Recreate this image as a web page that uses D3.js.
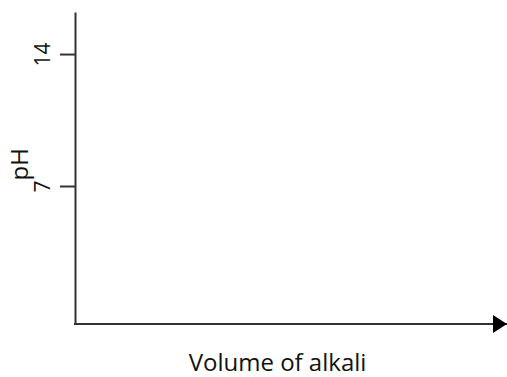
<!DOCTYPE html>
<html>
<head>
<meta charset="utf-8">
<script src="https://cdn.jsdelivr.net/npm/d3@7"></script>
<style>
  body { margin: 0; background: #fff; }
  text { font-family: "Open Sans", "Liberation Sans", sans-serif; fill: #111; }
</style>
</head>
<body>
<svg id="chart" width="507" height="377"></svg>
<script>
// Axis values
const yTicks = [7, 14],
    yDomain = [-0.32, 16.23],
    xDomain = [0, 1],
    yLabel = 'pH',
    xLabel = 'Volume of alkali';

const margin = { top: 12, right: 0, bottom: 53, left: 75 },
    visWidth = 507, visHeight = 377,
    width = visWidth - margin.left - margin.right,
    height = visHeight - margin.top - margin.bottom;

const svg = d3.select('#chart');
const g = svg.append('g').attr('transform', 'translate(' + margin.left + ',' + margin.top + ')');

const xScale = d3.scaleLinear().domain(xDomain).range([0, width]),
    yScale = d3.scaleLinear().domain(yDomain).range([height, 0]);

// Arrow marker
svg.append('defs').append('marker')
    .attr('id', 'arrow')
    .attr('viewBox', '0 0 14 18')
    .attr('refX', 14).attr('refY', 9)
    .attr('markerWidth', 14).attr('markerHeight', 18)
    .attr('markerUnits', 'userSpaceOnUse')
    .attr('orient', 'auto')
  .append('path')
    .attr('d', 'M0,0L14,9L0,18Z')
    .attr('fill', '#000');

// Y axis
const yAxis = g.append('g')
    .call(d3.axisLeft(yScale).tickValues(yTicks).tickSize(15).tickSizeOuter(0).tickPadding(0));
yAxis.select('.domain').attr('stroke', '#333').attr('stroke-width', 2);
yAxis.selectAll('.tick line').attr('stroke', '#333').attr('stroke-width', 2);
yAxis.selectAll('.tick text')
    .attr('x', 0).attr('dy', null).attr('dx', null)
    .attr('transform', 'translate(-25,0) rotate(-90)')
    .attr('text-anchor', 'middle')
    .style('font-size', '21px')
    .style('font-family', '"Open Sans", sans-serif')
    .attr('fill', '#111');

// X axis line with arrow
g.append('line')
    .attr('x1', xScale(0) - 1).attr('x2', xScale(1))
    .attr('y1', height).attr('y2', height)
    .attr('stroke', '#333').attr('stroke-width', 2)
    .attr('marker-end', 'url(#arrow)');

// Axis titles
svg.append('text')
    .attr('transform', 'translate(28,' + (margin.top + yScale(8.15)) + ') rotate(-90)')
    .attr('text-anchor', 'middle')
    .style('font-size', '24px')
    .text(yLabel);

svg.append('text')
    .attr('x', 277.5)
    .attr('y', 371)
    .attr('text-anchor', 'middle')
    .style('font-size', '24px')
    .text(xLabel);
</script>
</body>
</html>
